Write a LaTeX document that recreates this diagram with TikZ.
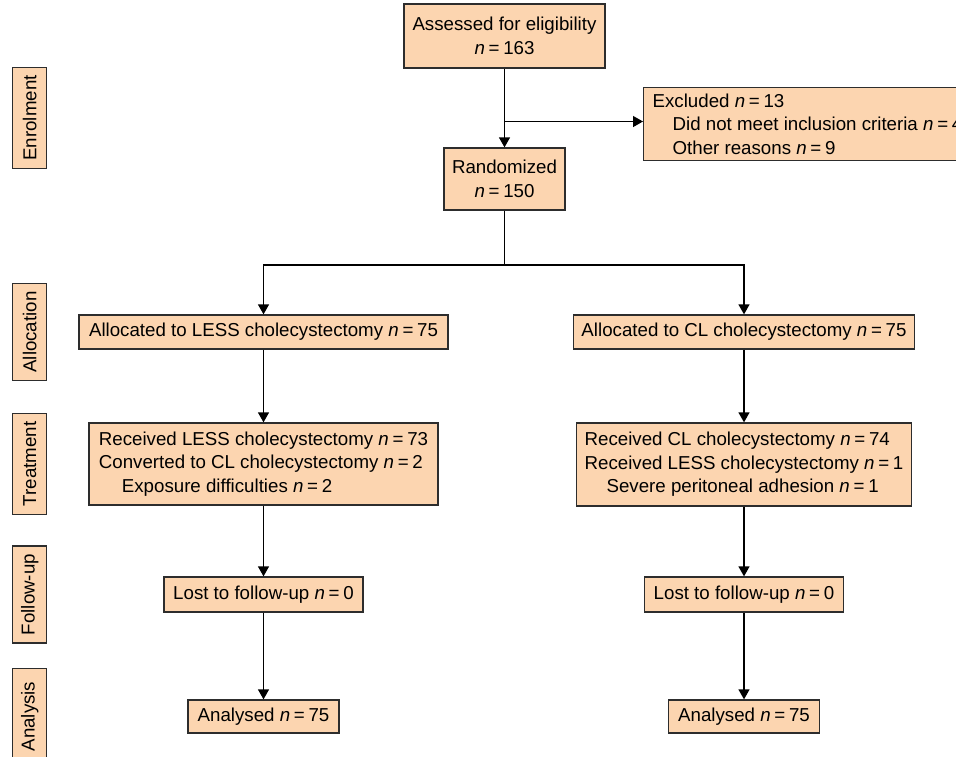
\documentclass[tikz,border=0pt]{standalone}
\usepackage{fontspec}
\setmainfont{Liberation Sans}
\usetikzlibrary{arrows.meta}
\definecolor{peach}{RGB}{252,213,176}
\definecolor{edge}{RGB}{45,45,45}
\newcommand{\nval}[1]{\textit{n}\hspace{0.2em}=\hspace{0.2em}#1}

\begin{document}
\begin{tikzpicture}[x=1pt,y=-1pt,>={Triangle[length=10pt,width=11pt]},line width=1.3pt]
			\clip (0,0) rectangle (956,756);
			\tikzstyle{every node} = [fill=peach,draw=edge,inner xsep=8pt,inner ysep=3pt,
				font=\fontsize{18.7}{23.5}\selectfont];
			\tikzstyle{phase} = [rotate=90,minimum width=96pt,minimum height=34pt];
			% side labels
			\node[phase] (enrol) at (29.7,118) {Enrolment};
			\node[phase] (alloc) at (29.7,332) {Allocation};
			\node[phase] (treat) at (29.7,464) {Treatment};
			\node[phase] (follow) at (29.7,594.5) {Follow-up};
			\node[phase] (anal) at (29.7,716.5) {Analysis};
			% enrolment
			\node[align=center,minimum width=201pt,minimum height=64pt] (assess) at (504.5,36) {Assessed for eligibility\\\nval{163}};
			\node[align=left,anchor=west,inner xsep=9pt,minimum height=73pt] (excl) at (643,124.3)
				{Excluded \nval{13}\\\hspace*{20pt}Did not meet inclusion criteria \nval{4}\\\hspace*{20pt}Other reasons \nval{9}};
			\node[align=center,minimum width=120pt,minimum height=62pt] (rand) at (504.5,179) {Randomized\\\nval{150}};
			% two arms
			\node[minimum width=369pt,minimum height=34pt] (allocL) at (263.5,332) {Allocated to LESS cholecystectomy \nval{75}};
			\node[minimum width=339pt,minimum height=34pt] (allocC) at (744,332) {Allocated to CL cholecystectomy \nval{75}};
			\node[align=left,minimum width=349pt,minimum height=82pt] (treatL) at (263.5,464)
				{Received LESS cholecystectomy \nval{73}\\Converted to CL cholecystectomy \nval{2}\\\hspace*{23pt}Exposure difficulties \nval{2}};
			\node[align=left,minimum width=334pt,minimum height=83pt] (treatC) at (744,464.5)
				{Received CL cholecystectomy \nval{74}\\Received LESS cholecystectomy \nval{1}\\\hspace*{22pt}Severe peritoneal adhesion \nval{1}};
			\node[minimum width=199pt,minimum height=35pt] (lostL) at (263.5,594.5) {Lost to follow-up \nval{0}};
			\node[minimum width=199pt,minimum height=35pt] (lostC) at (744,594.5) {Lost to follow-up \nval{0}};
			\node[minimum width=151pt,minimum height=33pt] (analL) at (263.5,716.5) {Analysed \nval{75}};
			\node[minimum width=151pt,minimum height=33pt] (analC) at (744,716.5) {Analysed \nval{75}};
			\coordinate (exj) at (504.5,121.5);
			\coordinate (split) at (504.5,265);
			\draw[->] (assess) -- (rand);
			\draw[->] (exj) -- (exj -| excl.west);
			\draw (rand) -- (split);
			\draw[->] (split) -| (allocL);
			\draw[->] (split) -| (allocC);
			\draw[->] (allocL) -- (treatL);
			\draw[->] (allocC) -- (treatC);
			\draw[->] (treatL) -- (lostL);
			\draw[->] (treatC) -- (lostC);
			\draw[->] (lostL) -- (analL);
			\draw[->] (lostC) -- (analC);
		\end{tikzpicture}
\end{document}
